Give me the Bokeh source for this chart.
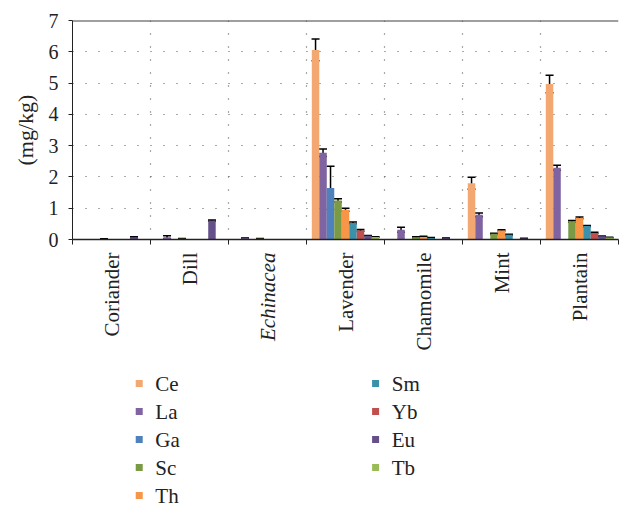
import math
from bokeh.plotting import figure
from bokeh.models import (FactorRange, Range1d, ColumnDataSource, Whisker, TeeHead, Span,
                          LinearAxis, FixedTicker)
from bokeh.core.properties import value
from bokeh.transform import dodge
from bokeh.layouts import column
from bokeh.embed import file_html
from bokeh.resources import INLINE

plants = ["Coriander", "Dill", "Echinacea", "Lavender", "Chamomile", "Mint", "Plantain"]
plant_style = ["normal", "normal", "italic", "normal", "normal", "normal", "normal"]
elements = ["Ce", "La", "Ga", "Sc", "Th", "Sm", "Yb", "Eu", "Tb"]
colors = ["#F2A870", "#8064A2", "#4F81BD", "#7A9A45", "#F79646", "#3B90AA", "#C0504D", "#65508A", "#9BBB59"]

Ce = [0.0, 0.0, 0.0, 6.06, 0.0, 1.80, 4.97]
La = [0.0, 0.07, 0.04, 2.77, 0.31, 0.79, 2.29]
Ga = [0.0, 0.0, 0.0, 1.65, 0.0, 0.0, 0.0]
Sc = [0.01, 0.02, 0.02, 1.25, 0.07, 0.18, 0.58]
Th = [0.0, 0.0, 0.0, 0.95, 0.08, 0.29, 0.69]
Sm = [0.0, 0.0, 0.0, 0.53, 0.05, 0.15, 0.43]
Yb = [0.0, 0.0, 0.0, 0.29, 0.0, 0.0, 0.21]
Eu = [0.07, 0.60, 0.0, 0.12, 0.04, 0.03, 0.10]
Tb = [0.0, 0.0, 0.0, 0.08, 0.0, 0.0, 0.06]

Ce_err = [0.0, 0.0, 0.0, 0.35, 0.0, 0.19, 0.28]
La_err = [0.0, 0.05, 0.01, 0.12, 0.08, 0.06, 0.08]
Ga_err = [0.0, 0.0, 0.0, 0.69, 0.0, 0.0, 0.0]
Sc_err = [0.01, 0.01, 0.01, 0.05, 0.02, 0.02, 0.03]
Th_err = [0.0, 0.0, 0.0, 0.05, 0.02, 0.02, 0.03]
Sm_err = [0.0, 0.0, 0.0, 0.03, 0.01, 0.02, 0.02]
Yb_err = [0.0, 0.0, 0.0, 0.03, 0.0, 0.0, 0.02]
Eu_err = [0.02, 0.02, 0.0, 0.01, 0.01, 0.01, 0.01]
Tb_err = [0.0, 0.0, 0.0, 0.01, 0.0, 0.0, 0.01]

y_ticks = [0, 1, 2, 3, 4, 5, 6, 7]
y_label = "(mg/kg)"

values = [Ce, La, Ga, Sc, Th, Sm, Yb, Eu, Tb]
errors = [Ce_err, La_err, Ga_err, Sc_err, Th_err, Sm_err, Yb_err, Eu_err, Tb_err]

FONT = "Liberation Serif"
TXT = "#222222"
W = 626

p = figure(x_range=FactorRange(*plants, range_padding=0), y_range=Range1d(0, 7),
           width=W, height=251, output_backend="svg", toolbar_location=None,
           x_axis_location=None, min_border_left=72, min_border_right=8,
           min_border_top=20, min_border_bottom=12)
p.outline_line_color = None

bw = 0.096
n = len(elements)
for i, (name, vals, errs, col) in enumerate(zip(elements, values, errors, colors)):
    off = (i - (n - 1) / 2) * bw
    src = ColumnDataSource(dict(plant=plants, v=vals))
    p.vbar(x=dodge("plant", off, range=p.x_range), top="v", width=bw, source=src,
           fill_color=col, line_color=None)
    keep = [k for k, v in enumerate(vals) if v > 0]
    esrc = ColumnDataSource(dict(plant=[plants[k] for k in keep],
                                 upper=[vals[k] + errs[k] for k in keep],
                                 lower=[vals[k] - errs[k] for k in keep]))
    w = Whisker(base=dodge("plant", off, range=p.x_range), upper="upper", lower="lower",
                source=esrc, dimension="height", line_color="black", line_width=1.5,
                upper_head=TeeHead(size=8, line_color="black", line_width=1.5),
                lower_head=TeeHead(size=8, line_color="black", line_width=1.5))
    p.add_layout(w)

# y axis
ya = p.yaxis[0]
ya.ticker = FixedTicker(ticks=y_ticks)
ya.minor_tick_line_color = None
ya.major_tick_in = 0
ya.major_tick_out = 4
ya.major_label_standoff = 10
ya.major_label_text_font = FONT
ya.major_label_text_font_size = "20px"
ya.major_label_text_color = TXT
ya.axis_line_color = TXT
ya.major_tick_line_color = TXT
ya.axis_label = y_label
ya.axis_label_text_font = FONT
ya.axis_label_text_font_size = "22px"
ya.axis_label_text_font_style = "normal"
ya.axis_label_text_color = TXT
ya.axis_label_standoff = 8

# x axis: ticks at group boundaries, labels drawn in the panel below
xa = LinearAxis(ticker=FixedTicker(ticks=list(range(len(plants) + 1))))
xa.major_label_overrides = {i: "" for i in range(len(plants) + 1)}
xa.major_label_text_font_size = "0px"
xa.major_label_standoff = 0
xa.minor_tick_line_color = None
xa.major_tick_in = 0
xa.major_tick_out = 5
xa.axis_line_color = TXT
xa.axis_line_width = 1.5
xa.major_tick_line_color = TXT
p.add_layout(xa, "below")

# grid
p.xgrid.visible = False
p.ygrid.ticker = FixedTicker(ticks=y_ticks[1:-1])
p.ygrid.grid_line_color = "#555555"
p.ygrid.grid_line_dash = "1 12"
p.ygrid.grid_line_width = 1.2
for b in range(1, len(plants)):
    p.add_layout(Span(location=b, dimension="height", line_color="#555555",
                      line_dash="1 12", line_width=1.2))
p.add_layout(Span(location=7, dimension="width", line_color="#404040", line_width=2))

# category label panel (shares the x range)
LH = 117
c = figure(x_range=p.x_range, y_range=Range1d(-LH, 0), width=W, height=LH,
           output_backend="svg", toolbar_location=None, x_axis_location=None,
           y_axis_location=None, min_border_left=72, min_border_right=8,
           min_border_top=0, min_border_bottom=0)
c.outline_line_color = None
c.grid.visible = False
lsrc = ColumnDataSource(dict(plant=plants, style=plant_style))
c.text(x="plant", y=-1, text="plant", source=lsrc, angle=math.pi / 2,
       text_align="right", text_baseline="middle", text_font=value(FONT),
       text_font_size=value("21px"), text_font_style="style", text_color=TXT)

# legend panel
LEGH = 143
rows = 5
q = figure(width=W, height=LEGH, output_backend="svg", toolbar_location=None,
           x_range=Range1d(0, W), y_range=Range1d(-LEGH, 0), x_axis_location=None,
           y_axis_location=None, min_border=0)
q.outline_line_color = None
q.grid.visible = False
col_x = [76.5, 347.5]
row_y0, row_dy = 15, 28
lx = [col_x[i // rows] for i in range(n)]
ly = [-(row_y0 + row_dy * (i % rows)) for i in range(n)]
gsrc = ColumnDataSource(dict(x=lx, tx=[v + 18.5 for v in lx], y=ly, name=elements, color=colors))
q.scatter(x="x", y="y", source=gsrc, marker="square", size=7, fill_color="color", line_color=None)
q.text(x="tx", y="y", text="name", source=gsrc, text_align="left", text_baseline="middle",
       text_font=value(FONT), text_font_size=value("21px"), text_color=TXT)

layout = column(p, c, q, spacing=0)
open("out.html", "w").write(file_html(layout, INLINE))
